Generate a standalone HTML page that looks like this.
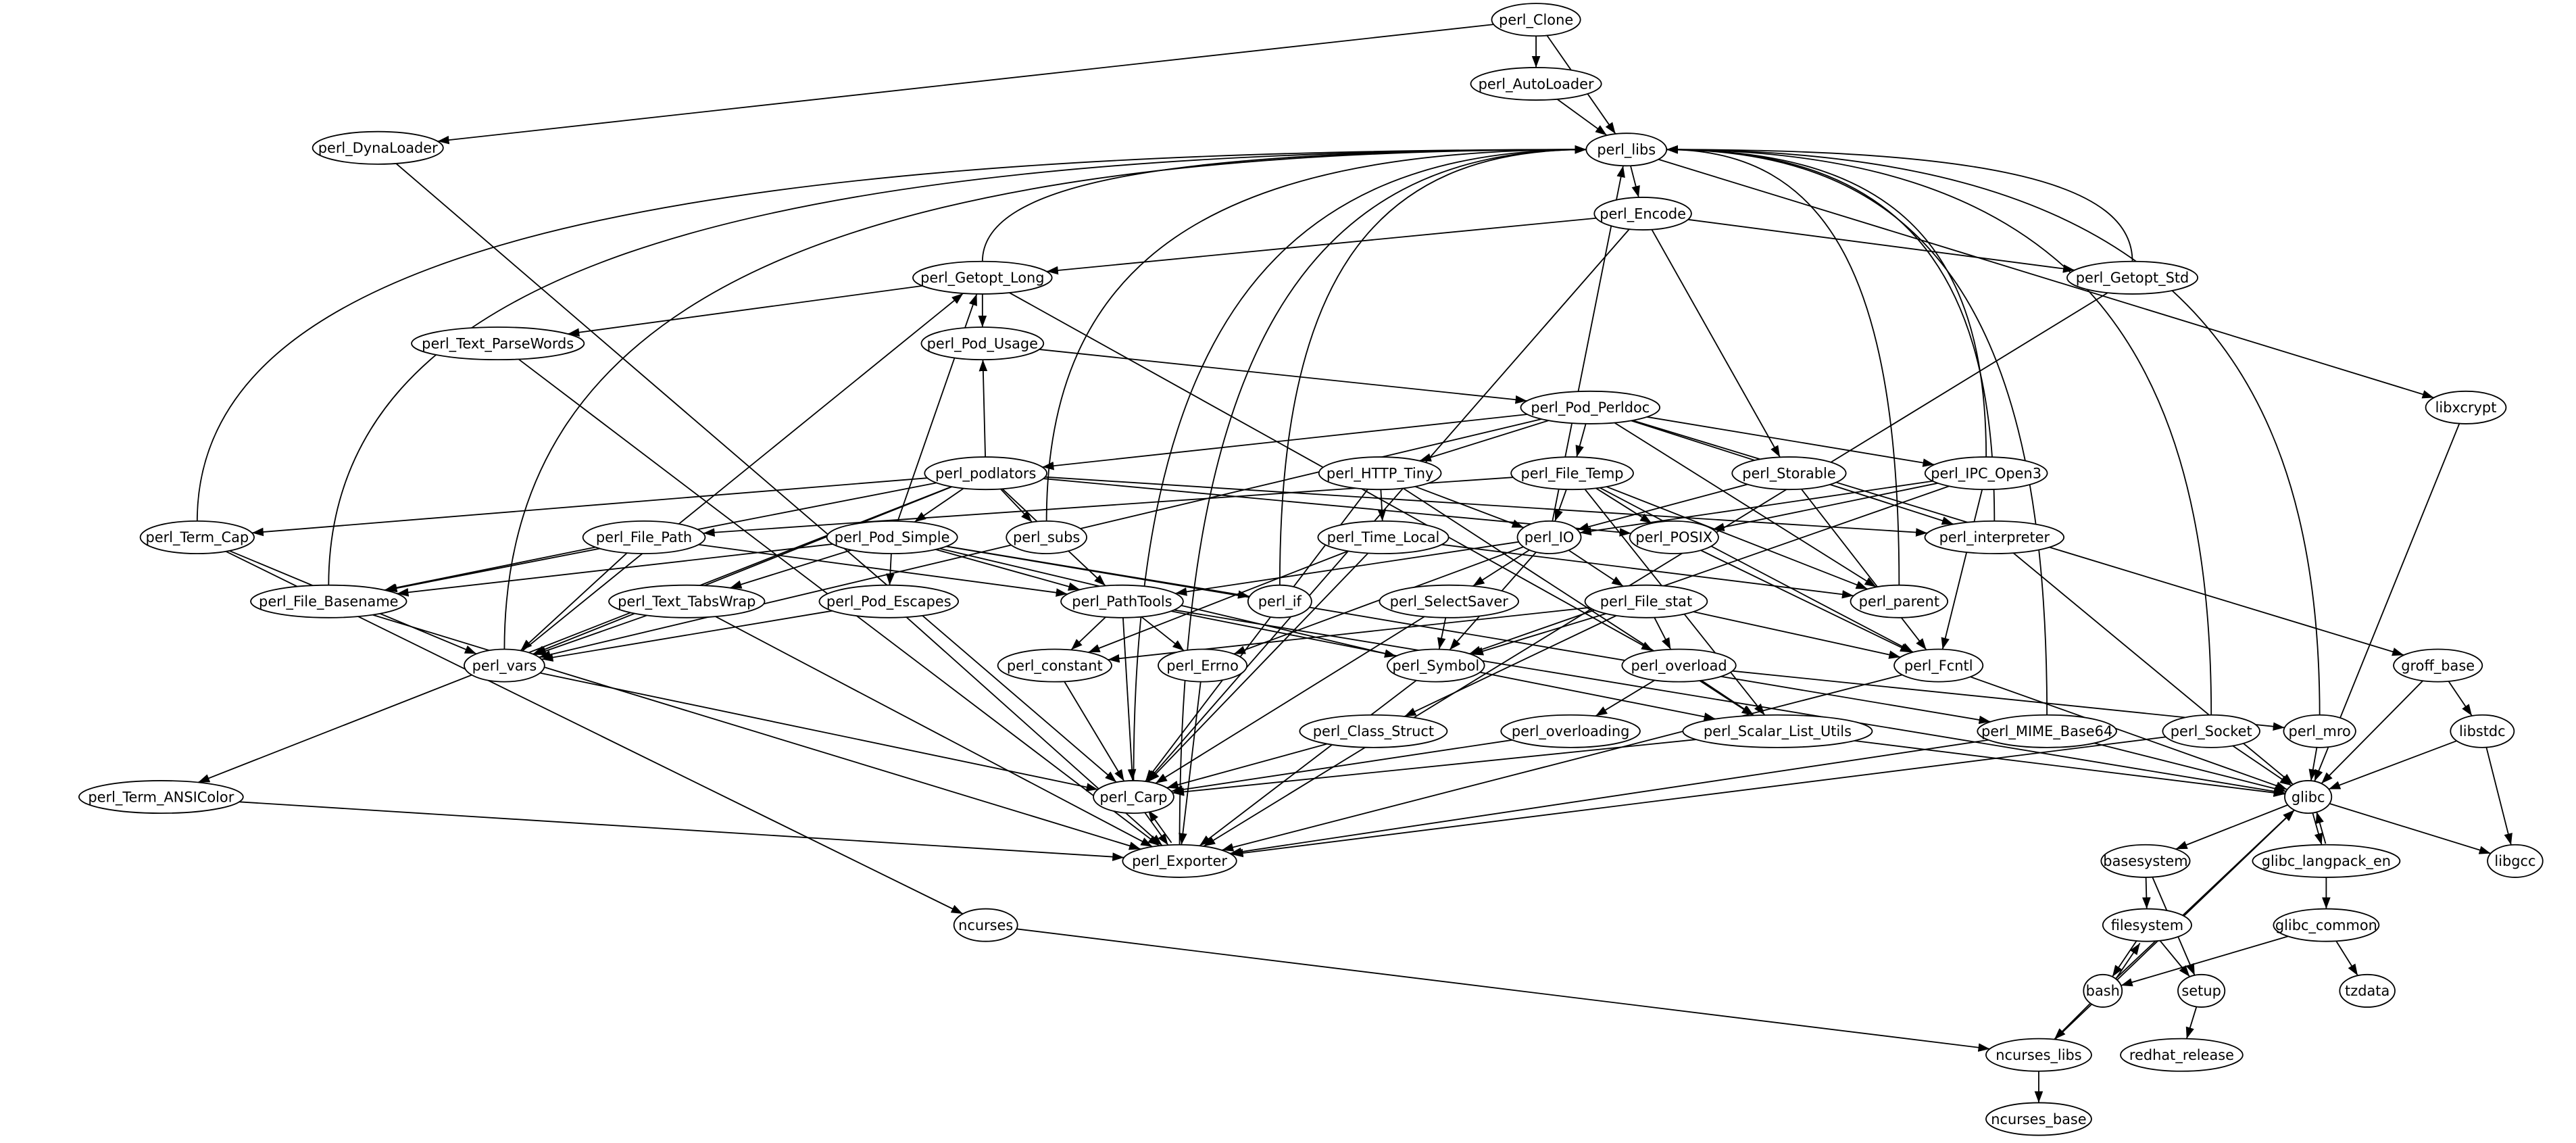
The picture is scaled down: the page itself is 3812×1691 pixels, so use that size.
<!DOCTYPE html>
<html><head><meta charset="utf-8">
<style>
html,body{margin:0;padding:0;background:#fff;}
svg{display:block;}
text{font-family:"DejaVu Sans","Liberation Sans",sans-serif;font-size:8.6px;}
</style></head>
<body>
<svg id="g" xmlns="http://www.w3.org/2000/svg" width="3812" height="1691" viewBox="0 0 1568 695.6">
<defs><marker id="a" markerWidth="7" markerHeight="6" refX="7" refY="3" orient="auto" markerUnits="userSpaceOnUse"><path d="M0,0.4 L7,3 L0,5.6 z" fill="#000"/></marker></defs>
<rect width="1568" height="695.6" fill="#fff"/>
<g id="E"></g><g id="N"></g>
</svg>
<script>
var nodes={
"perl_Clone":[935,12],"perl_AutoLoader":[935,51],"perl_DynaLoader":[230,90],"perl_libs":[990,91],
"perl_Encode":[1000,130],"perl_Getopt_Long":[598,169],"perl_Getopt_Std":[1298,169],
"perl_Text_ParseWords":[303,209],"perl_Pod_Usage":[598,209],"libxcrypt":[1501,248],"perl_Pod_Perldoc":[968,248],
"perl_podlators":[600,288],"perl_HTTP_Tiny":[840,288],"perl_File_Temp":[957,288],"perl_Storable":[1089,288],
"perl_IPC_Open3":[1209,288],"perl_Term_Cap":[120,327],"perl_subs":[637,327],"perl_File_Path":[392,327],
"perl_Time_Local":[842,327],"perl_IO":[943,327],"perl_POSIX":[1019,327],"perl_interpreter":[1214,327],
"perl_Pod_Simple":[543,327],"perl_File_Basename":[200,366],"perl_PathTools":[683,366],"perl_if":[779,366],
"perl_SelectSaver":[882,366],"perl_Text_TabsWrap":[418,366],"perl_Pod_Escapes":[541,366],"perl_File_stat":[1002,366],
"perl_parent":[1156,366],"groff_base":[1484,405],"perl_vars":[307,405],"perl_constant":[642,405],"perl_Errno":[732,405],
"perl_Symbol":[874,405],"perl_overload":[1022,405],"perl_Fcntl":[1180,405],"perl_Class_Struct":[836,445],
"perl_overloading":[956,445],"perl_Scalar_List_Utils":[1082,445],"perl_MIME_Base64":[1246,445],"perl_Socket":[1346,445],
"perl_mro":[1412,445],"libstdc":[1511,445],"perl_Term_ANSIColor":[98,485],"perl_Carp":[690,485],"glibc":[1405,485],
"perl_Exporter":[718,524],"basesystem":[1306,524],"glibc_langpack_en":[1416,524],"libgcc":[1531,524],
"filesystem":[1307,563],"glibc_common":[1416,563],"ncurses":[600,563],"bash":[1280,603],"setup":[1340,603],
"tzdata":[1441,603],"redhat_release":[1328,642],"ncurses_libs":[1241,642],"ncurses_base":[1241,681]};
var edges=`perl_Clone perl_AutoLoader;perl_Clone perl_libs;perl_Clone perl_DynaLoader;perl_AutoLoader perl_libs;
perl_DynaLoader perl_Carp;perl_libs perl_Encode;perl_libs libxcrypt;perl_Encode perl_Getopt_Long;perl_Encode perl_Getopt_Std;
perl_Encode perl_Storable;perl_Encode perl_Carp;perl_Getopt_Long perl_libs;perl_Getopt_Long perl_Text_ParseWords;
perl_Getopt_Long perl_Pod_Usage;perl_Getopt_Long perl_overload;perl_Getopt_Std perl_libs;perl_Getopt_Std perl_Exporter;
perl_Text_ParseWords perl_Exporter;perl_Pod_Usage perl_Pod_Perldoc;perl_Pod_Perldoc perl_podlators;perl_Pod_Perldoc perl_HTTP_Tiny;
perl_Pod_Perldoc perl_File_Temp;perl_Pod_Perldoc perl_IPC_Open3;perl_Pod_Perldoc perl_interpreter;perl_Pod_Perldoc groff_base;
perl_Pod_Perldoc perl_parent;perl_Pod_Perldoc perl_vars;perl_podlators perl_Pod_Usage;perl_podlators perl_Term_Cap;
perl_podlators perl_subs;perl_podlators perl_Pod_Simple;perl_podlators perl_PathTools;perl_podlators perl_File_Basename;
perl_podlators perl_vars;perl_podlators perl_Term_ANSIColor;perl_podlators perl_POSIX;perl_podlators perl_interpreter;
perl_HTTP_Tiny perl_Time_Local;perl_HTTP_Tiny perl_IO;perl_HTTP_Tiny perl_Carp;perl_HTTP_Tiny perl_Scalar_List_Utils;
perl_File_Temp perl_IO;perl_File_Temp perl_POSIX;perl_File_Temp perl_parent;perl_File_Temp perl_Fcntl;
perl_File_Temp perl_Scalar_List_Utils;perl_File_Temp perl_File_Path;perl_Storable perl_IO;perl_Storable perl_Fcntl;
perl_IPC_Open3 perl_libs;perl_IPC_Open3 perl_IO;perl_IPC_Open3 perl_POSIX;perl_IPC_Open3 perl_Symbol;perl_IPC_Open3 perl_Fcntl;
perl_Term_Cap perl_libs;perl_Term_Cap perl_vars;perl_Term_Cap ncurses;perl_subs perl_libs;perl_File_Path perl_File_Basename;
perl_File_Path perl_vars;perl_File_Path perl_PathTools;perl_Time_Local perl_constant;perl_Time_Local perl_Carp;
perl_Time_Local perl_parent;perl_IO perl_libs;perl_IO perl_SelectSaver;perl_IO perl_File_stat;perl_IO perl_Errno;
perl_IO perl_PathTools;perl_IO perl_Symbol;perl_POSIX perl_Fcntl;perl_interpreter perl_libs;perl_interpreter glibc;
perl_Pod_Simple perl_Getopt_Long;perl_Pod_Simple perl_PathTools;perl_Pod_Simple perl_Pod_Escapes;perl_Pod_Simple perl_Text_TabsWrap;
perl_Pod_Simple perl_if;perl_Pod_Simple perl_File_Basename;perl_Pod_Simple perl_Symbol;perl_Pod_Simple perl_MIME_Base64;
perl_File_Basename perl_libs;perl_File_Basename perl_Exporter;perl_PathTools perl_constant;perl_PathTools perl_Errno;
perl_PathTools perl_Scalar_List_Utils;perl_PathTools glibc;perl_PathTools perl_Carp;perl_if perl_libs;
perl_SelectSaver perl_Symbol;perl_SelectSaver perl_Carp;perl_Text_TabsWrap perl_vars;perl_Text_TabsWrap perl_Exporter;
perl_Pod_Escapes perl_vars;perl_Pod_Escapes perl_Exporter;perl_File_stat perl_constant;perl_File_stat perl_Symbol;
perl_File_stat perl_overload;perl_File_stat perl_Fcntl;perl_File_stat perl_Class_Struct;perl_parent perl_libs;
groff_base libstdc;groff_base glibc;perl_vars perl_libs;perl_vars perl_Carp;perl_vars perl_Getopt_Long;perl_constant perl_Carp;
perl_Errno perl_Exporter;perl_Symbol perl_Exporter;perl_overload perl_overloading;perl_overload perl_Scalar_List_Utils;
perl_overload perl_mro;perl_Fcntl perl_Exporter;perl_Fcntl glibc;perl_Class_Struct perl_Carp;perl_overloading perl_Carp;
perl_Scalar_List_Utils perl_Carp;perl_Scalar_List_Utils glibc;perl_MIME_Base64 perl_libs;perl_MIME_Base64 perl_Exporter;
perl_MIME_Base64 glibc;perl_Socket perl_libs;perl_Socket perl_Exporter;perl_Socket glibc;perl_mro perl_libs;perl_mro glibc;
libstdc glibc;libstdc libgcc;libxcrypt glibc;perl_Term_ANSIColor perl_Exporter;perl_Carp perl_Exporter;perl_Exporter perl_Carp;
glibc basesystem;glibc glibc_langpack_en;glibc libgcc;glibc_langpack_en glibc;basesystem filesystem;basesystem setup;
glibc_langpack_en glibc_common;glibc_common bash;glibc_common tzdata;filesystem bash;bash filesystem;filesystem setup;
bash ncurses_libs;bash glibc;setup redhat_release;ncurses ncurses_libs;ncurses_libs ncurses_base;ncurses_libs glibc;
perl_Carp perl_libs;perl_Exporter perl_libs`;
var NS="http://www.w3.org/2000/svg",RY=9.9;
function rx(n){return n.length*2.55+1.5;}
var E=document.getElementById("E"),N=document.getElementById("N");
var seen={};
edges.split(";").forEach(function(s){s=s.trim();if(!s)return;var p=s.split(/\s+/);var a=nodes[p[0]],b=nodes[p[1]];if(!a||!b)return;
 var dx=b[0]-a[0],dy=b[1]-a[1];var key=[p[0],p[1]].sort().join("|");var off=0;if(seen[key]){off=2.5;}seen[key]=1;
 var el;
 if(p[1]=="perl_libs" && Math.abs(dx)>120){
  var sx=a[0],sy=a[1]-RY,side=dx>0?-1:1,ex=b[0]+side*rx(p[1]),ey=b[1];
  el=document.createElementNS(NS,"path");
  el.setAttribute("d","M"+sx+","+sy+" C"+sx+","+(ey+(sy-ey)*0.3)+" "+(sx+(ex-sx)*0.3)+","+ey+" "+ex+","+ey);
  el.setAttribute("fill","none");
 } else {
 var L=Math.hypot(dx,dy);var px=-dy/L*off,py=dx/L*off;
 var ta=1/Math.sqrt(dx*dx/(rx(p[0])*rx(p[0]))+dy*dy/(RY*RY));
 var tb=1/Math.sqrt(dx*dx/(rx(p[1])*rx(p[1]))+dy*dy/(RY*RY));
 el=document.createElementNS(NS,"line");
 el.setAttribute("x1",a[0]+dx*ta+px);el.setAttribute("y1",a[1]+dy*ta+py);
 el.setAttribute("x2",b[0]-dx*tb+px);el.setAttribute("y2",b[1]-dy*tb+py);
 }
 el.setAttribute("stroke","#000");el.setAttribute("stroke-width","0.75");el.setAttribute("marker-end","url(#a)");E.appendChild(el);});
for(var k in nodes){var c=nodes[k];
 var e=document.createElementNS(NS,"ellipse");e.setAttribute("cx",c[0]);e.setAttribute("cy",c[1]);e.setAttribute("rx",rx(k));e.setAttribute("ry",RY);
 e.setAttribute("fill","#fff");e.setAttribute("stroke","#000");e.setAttribute("stroke-width","0.75");N.appendChild(e);
 var t=document.createElementNS(NS,"text");t.setAttribute("x",c[0]);t.setAttribute("y",c[1]+3);t.setAttribute("text-anchor","middle");t.textContent=k;N.appendChild(t);}
</script>
</body></html>
